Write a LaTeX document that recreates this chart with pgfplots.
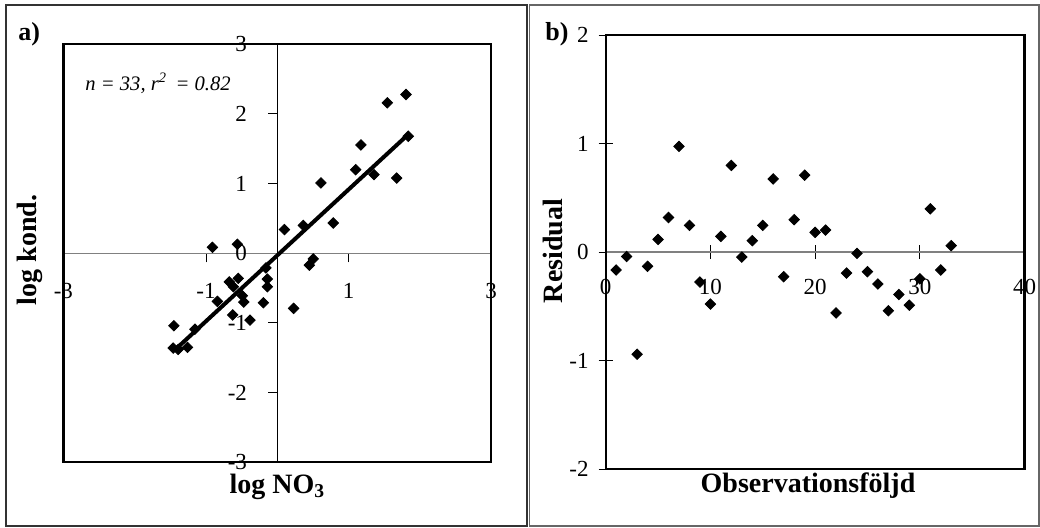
\documentclass[border=0pt]{standalone}
\usepackage{fontspec}
\setmainfont{Liberation Serif}
\usepackage{pgfplots}
\pgfplotsset{compat=1.18}

% scatter data: log NO3 vs log kond.
\pgfplotstableread{
x y
1.805 2.28
1.543 2.16
1.837 1.68
1.173 1.555
1.099 1.20
1.356 1.13
1.674 1.08
0.612 1.01
0.785 0.435
0.365 0.40
0.10 0.34
0.505 -0.08
0.449 -0.17
0.229 -0.79
-0.16 -0.21
-0.14 -0.37
-0.14 -0.48
-0.196 -0.71
-0.383 -0.96
-0.625 -0.885
-0.49 -0.61
-0.47 -0.70
-0.547 -0.36
-0.673 -0.41
-0.617 -0.48
-0.56 0.13
-0.91 0.086
-0.84 -0.69
-1.155 -1.09
-1.45 -1.04
-1.46 -1.36
-1.39 -1.38
-1.26 -1.35
}\leftdata

% residuals in observation order
\pgfplotstableread{
n r
1 -0.164
2 -0.04
3 -0.94
4 -0.13
5 0.118
6 0.32
7 0.975
8 0.247
9 -0.275
10 -0.478
11 0.146
12 0.80
13 -0.045
14 0.106
15 0.247
16 0.675
17 -0.226
18 0.30
19 0.71
20 0.183
21 0.204
22 -0.56
23 -0.192
24 -0.011
25 -0.18
26 -0.293
27 -0.54
28 -0.39
29 -0.488
30 -0.245
31 0.40
32 -0.164
33 0.06
}\resdata

\pgfplotsset{
  panel/.style={
    scale only axis, anchor=origin, clip=false,
    axis lines=middle, axis line style={-},
    enlargelimits=false,
    hide obscured x ticks=false, hide obscured y ticks=false,
    tick style={black, line width=0.5pt},
    tick label style={font=\fontsize{11.5}{12}\selectfont},
    /pgf/number format/assume math mode=true,
  },
  dia/.style={only marks, mark=square*, mark size=1.85pt, mark options={rotate=45, black}},
}

\begin{document}
\begin{tikzpicture}
% a) log kond. vs log NO3
\begin{axis}[panel,
  at={(138.65pt,136.85pt)}, width=213.9pt, height=209pt,
  xmin=-3, xmax=3, ymin=-3, ymax=3,
  xtick={-3,-1,1,3}, ytick={-3,-2,-1,0,1,2,3},
  tick align=center, major tick length=4.5pt,
  xtick style={yshift=-2.25pt}, ytick style={xshift=-2.25pt},
  x axis line style={gray, line width=0.8pt},
  y axis line style={black, line width=0.5pt},
  xticklabel style={anchor=center, yshift=-16.5pt},
  yticklabel style={anchor=east, xshift=-9.4pt},
]
\addplot[dia] table[x=x, y=y] {\leftdata};
\addplot[black, line width=2pt] coordinates {(-1.45,-1.40) (1.84,1.71)};
\draw[black, line width=1.1pt] (rel axis cs:0,0) rectangle (rel axis cs:1,1);
\end{axis}

% b) residuals
\begin{axis}[panel,
  at={(302.85pt,137.4pt)}, width=209.4pt, height=217pt,
  xmin=0, xmax=40, ymin=-2, ymax=2,
  xtick={0,10,20,30,40}, ytick={-2,-1,0,1,2},
  tick align=center, major tick length=7pt,
  x axis line style={gray, line width=0.8pt},
  xticklabel style={anchor=center, yshift=-14pt},
  yticklabel style={anchor=east, xshift=-1.5pt},
]
\addplot[dia] table[x=n, y=r] {\resdata};
\draw[black, line width=1.1pt] (rel axis cs:0,0) rectangle (rel axis cs:1,1);
\end{axis}

\begin{scope}[x=0.5pt,y=0.5pt]
\draw[black!80, line width=0.6pt] (6,1) rectangle (527,522);
\draw[black!60, line width=0.6pt] (529.5,1) rectangle (1039,522);
\node[font=\bfseries\fontsize{13}{14}\selectfont, anchor=base west, inner sep=0pt] at (18,487) {a)};
\node[font=\bfseries\fontsize{13}{14}\selectfont, anchor=base west, inner sep=0pt] at (545,487) {b)};
\node[font=\itshape\fontsize{10.3}{11}\selectfont, anchor=base west, inner sep=0pt] at (85,437) {n = 33, r\textsuperscript{2}\, = 0.82};
\node[font=\bfseries\fontsize{14}{16}\selectfont, rotate=90, inner sep=0pt] at (30,277) {log kond.};
\node[font=\bfseries\fontsize{14}{16}\selectfont, anchor=base, inner sep=0pt] at (277.5,34) {log NO\textsubscript{3}};
\node[font=\bfseries\fontsize{14}{16}\selectfont, rotate=90, inner sep=0pt] at (553,276) {Residual};
\node[font=\bfseries\fontsize{14}{16}\selectfont, anchor=base, inner sep=0pt] at (808,35) {Observationsföljd};
\end{scope}

\pgfresetboundingbox
\useasboundingbox (0,0) rectangle (520pt,263.5pt);
\end{tikzpicture}
\end{document}
